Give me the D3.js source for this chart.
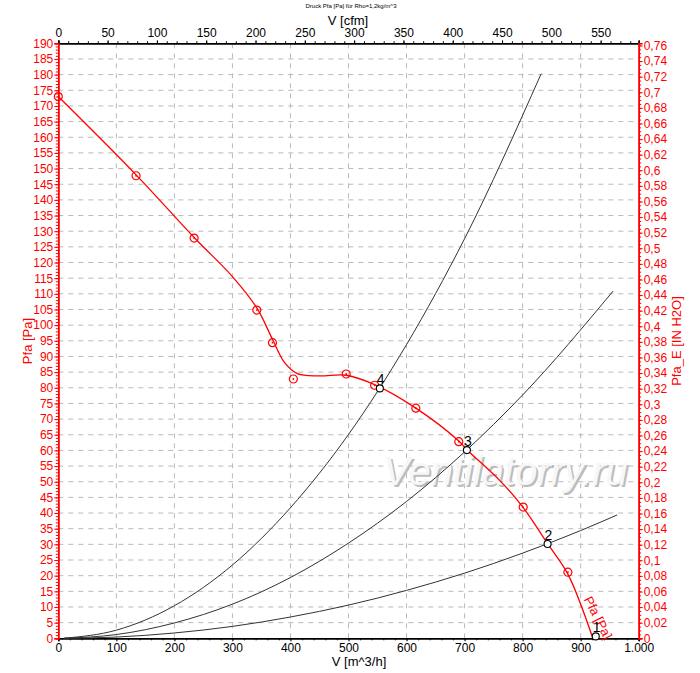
<!DOCTYPE html>
<html>
<head>
<meta charset="utf-8">
<script src="https://cdn.jsdelivr.net/npm/d3@7"></script>
<style>
  body { margin: 0; background: #fff; }
  text { font-family: Arial, "Liberation Sans", sans-serif; }
</style>
</head>
<body>
<script>
"use strict";

// fan curve Pfa [Pa] over V [m^3/h]
const fanCurve = [
  [0, 173], [134, 148], [234, 128], [300, 115.5], [342, 105.5], [369, 95.5],
  [390, 88], [412, 84.5], [450, 83.8], [496, 84], [545, 81], [616, 73.5],
  [690, 63], [704, 60.2], [760, 50.5], [800, 42], [843, 30.2], [878, 20.5], [921, 0]
];
// measured points (red circles)
const fanMarks = [
  [0, 173], [134, 147.7], [234, 127.8], [342, 104.8], [369, 94.4], [405, 82.8],
  [496, 84.4], [545, 80.8], [616, 73.5], [690, 62.8], [801, 41.9], [878, 21.1]
];
// system curves
const sysA = [[10, 0.03], [100, 2.6], [200, 10.4], [300, 23.4], [400, 41.7], [500, 65.1], [600, 93.8], [700, 127.6], [832, 180.3]];
const sysB = [[10, 0.01], [100, 1.2], [200, 4.9], [300, 10.9], [400, 19.4], [500, 30.4], [600, 43.7], [700, 59.5], [800, 77.7], [956, 110.9]];
const sysC = [[10, 0.0], [100, 0.4], [200, 1.7], [300, 3.8], [400, 6.8], [500, 10.6], [600, 15.3], [700, 20.8], [800, 27.2], [900, 34.4], [963, 39.4]];
// operating points
const opPoints = [
  { n: "1", v: 926, p: 0.6 },
  { n: "2", v: 843, p: 30.1 },
  { n: "3", v: 704, p: 60.1 },
  { n: "4", v: 554, p: 79.8 }
];
const xTicks = [0, 100, 200, 300, 400, 500, 600, 700, 800, 900, 1000];
const cfmTicks = [0, 50, 100, 150, 200, 250, 300, 350, 400, 450, 500, 550];
const paTicks = d3.range(0, 191, 5);
const inTicks = d3.range(0, 39).map(i => i * 0.02);

const W = 700, H = 673;
const svg = d3.select("body").append("svg").attr("width", W).attr("height", H);

const x = d3.scaleLinear().domain([0, 1000]).range([58.3, 638.7]);
const y = d3.scaleLinear().domain([0, 190]).range([638.3, 43.3]);
const xCfm = d3.scaleLinear().domain([0, 1000 / 1.699]).range(x.range());
const yIn = d3.scaleLinear().domain([0, 190 / 249.09]).range(y.range());

const red = "#ff0000";
const deFmt = v => d3.format(",")(v).replace(/,/g, ".");
const inFmt = v => (+v.toFixed(2)).toString().replace(".", ",");

// grid
const grid = svg.append("g").attr("stroke", "#b9b9b9").attr("stroke-dasharray", "5,5").attr("stroke-width", 1);
grid.selectAll(".gx").data(xTicks.slice(1, -1)).enter().append("line")
  .attr("x1", d => x(d)).attr("x2", d => x(d)).attr("y1", y(190)).attr("y2", y(0));
grid.selectAll(".gy").data(paTicks.slice(1, -1)).enter().append("line")
  .attr("x1", x(0)).attr("x2", x(1000)).attr("y1", d => y(d)).attr("y2", d => y(d));

// watermark
const wm = svg.append("g").attr("font-size", 40).attr("font-style", "italic").attr("text-anchor", "middle");
wm.append("text").attr("x", 507.5).attr("y", 486.5).attr("fill", "#bdbdbd").text("Ventilatorry.ru");
wm.append("text").attr("x", 505.5).attr("y", 484.5).attr("fill", "#f7f7f7").text("Ventilatorry.ru");

// axes
const axBottom = svg.append("g").attr("transform", `translate(0,${y(0)})`)
  .call(d3.axisBottom(x).tickValues(xTicks).tickFormat(deFmt).tickSize(3).tickPadding(2));
axBottom.append("g").call(d3.axisBottom(x).tickValues(d3.range(0, 1001, 20)).tickFormat("").tickSize(2));

const axTop = svg.append("g").attr("transform", `translate(0,${y(190)})`)
  .call(d3.axisTop(xCfm).tickValues(cfmTicks).tickSize(3).tickPadding(3));
axTop.append("g").call(d3.axisTop(xCfm).tickValues(d3.range(0, 581, 10)).tickFormat("").tickSize(2));

const axLeft = svg.append("g").attr("transform", `translate(${x(0)},0)`)
  .call(d3.axisLeft(y).tickValues(paTicks).tickSize(4).tickPadding(1));
axLeft.append("g").call(d3.axisLeft(y).tickValues(d3.range(0, 191, 1)).tickFormat("").tickSize(2.5));

const axRight = svg.append("g").attr("transform", `translate(${x(1000)},0)`)
  .call(d3.axisRight(yIn).tickValues(inTicks).tickFormat(inFmt).tickSize(4).tickPadding(1));
axRight.append("g").call(d3.axisRight(yIn).tickValues(d3.range(0, 153).map(i => i * 0.005)).tickFormat("").tickSize(2.5));

[axBottom, axTop].forEach(g => {
  g.selectAll("path").attr("stroke", "#000").attr("stroke-width", 1.5);
  g.selectAll("text").attr("font-size", 12).attr("fill", "#000").attr("font-family", "Arial, 'Liberation Sans', sans-serif");
});
[axLeft, axRight].forEach(g => {
  g.selectAll("path").attr("stroke", red).attr("stroke-width", 1.5);
  g.selectAll("line").attr("stroke", red);
  g.selectAll("text").attr("font-size", 12).attr("fill", red).attr("font-family", "Arial, 'Liberation Sans', sans-serif");
});

// titles
svg.append("text").attr("x", 351).attr("y", 8).attr("text-anchor", "middle")
  .attr("font-size", 6).text("Druck Pfa [Pa] für Rho=1,2kg/m^3");
svg.append("text").attr("x", 348).attr("y", 24.5).attr("text-anchor", "middle")
  .attr("font-size", 13).text("V [cfm]");
svg.append("text").attr("x", 359).attr("y", 666).attr("text-anchor", "middle")
  .attr("font-size", 13).text("V [m^3/h]");
svg.append("text").attr("transform", "translate(32,341) rotate(-90)").attr("text-anchor", "middle")
  .attr("font-size", 13).attr("fill", red).text("Pfa [Pa]");
svg.append("text").attr("transform", "translate(681,341) rotate(-90)").attr("text-anchor", "middle")
  .attr("font-size", 13).attr("fill", red).text("Pfa_E [IN H2O]");

// system curves
const line = d3.line().x(d => x(d[0])).y(d => y(d[1])).curve(d3.curveMonotoneX);
svg.append("g").selectAll("path").data([sysA, sysB, sysC]).enter().append("path")
  .attr("d", line).attr("fill", "none").attr("stroke", "#333").attr("stroke-width", 1);

// fan curve
svg.append("path").datum(fanCurve)
  .attr("d", d3.line().x(d => x(d[0])).y(d => y(d[1])).curve(d3.curveCatmullRom.alpha(0.5)))
  .attr("fill", "none").attr("stroke", red).attr("stroke-width", 1.3);

const marks = svg.append("g").selectAll("g").data(fanMarks).enter().append("g")
  .attr("transform", d => `translate(${x(d[0])},${y(d[1])})`);
marks.append("circle").attr("r", 4).attr("fill", "none").attr("stroke", red).attr("stroke-width", 1.2);
marks.append("circle").attr("r", 0.9).attr("fill", red);

// curve label
const lp = [905, 12.5];
svg.append("text").attr("transform", `translate(${x(lp[0])},${y(lp[1])}) rotate(63)`)
  .attr("font-size", 13).attr("fill", red).text("Pfa [Pa]");

// operating points
const ops = svg.append("g").selectAll("g").data(opPoints).enter().append("g")
  .attr("transform", d => `translate(${x(d.v)},${y(d.p)})`);
ops.append("circle").attr("r", 3.5).attr("fill", "#fff").attr("stroke", "#000").attr("stroke-width", 1.1);
ops.append("text").attr("x", -3).attr("y", -4).attr("font-size", 14).text(d => d.n);
</script>
</body>
</html>
